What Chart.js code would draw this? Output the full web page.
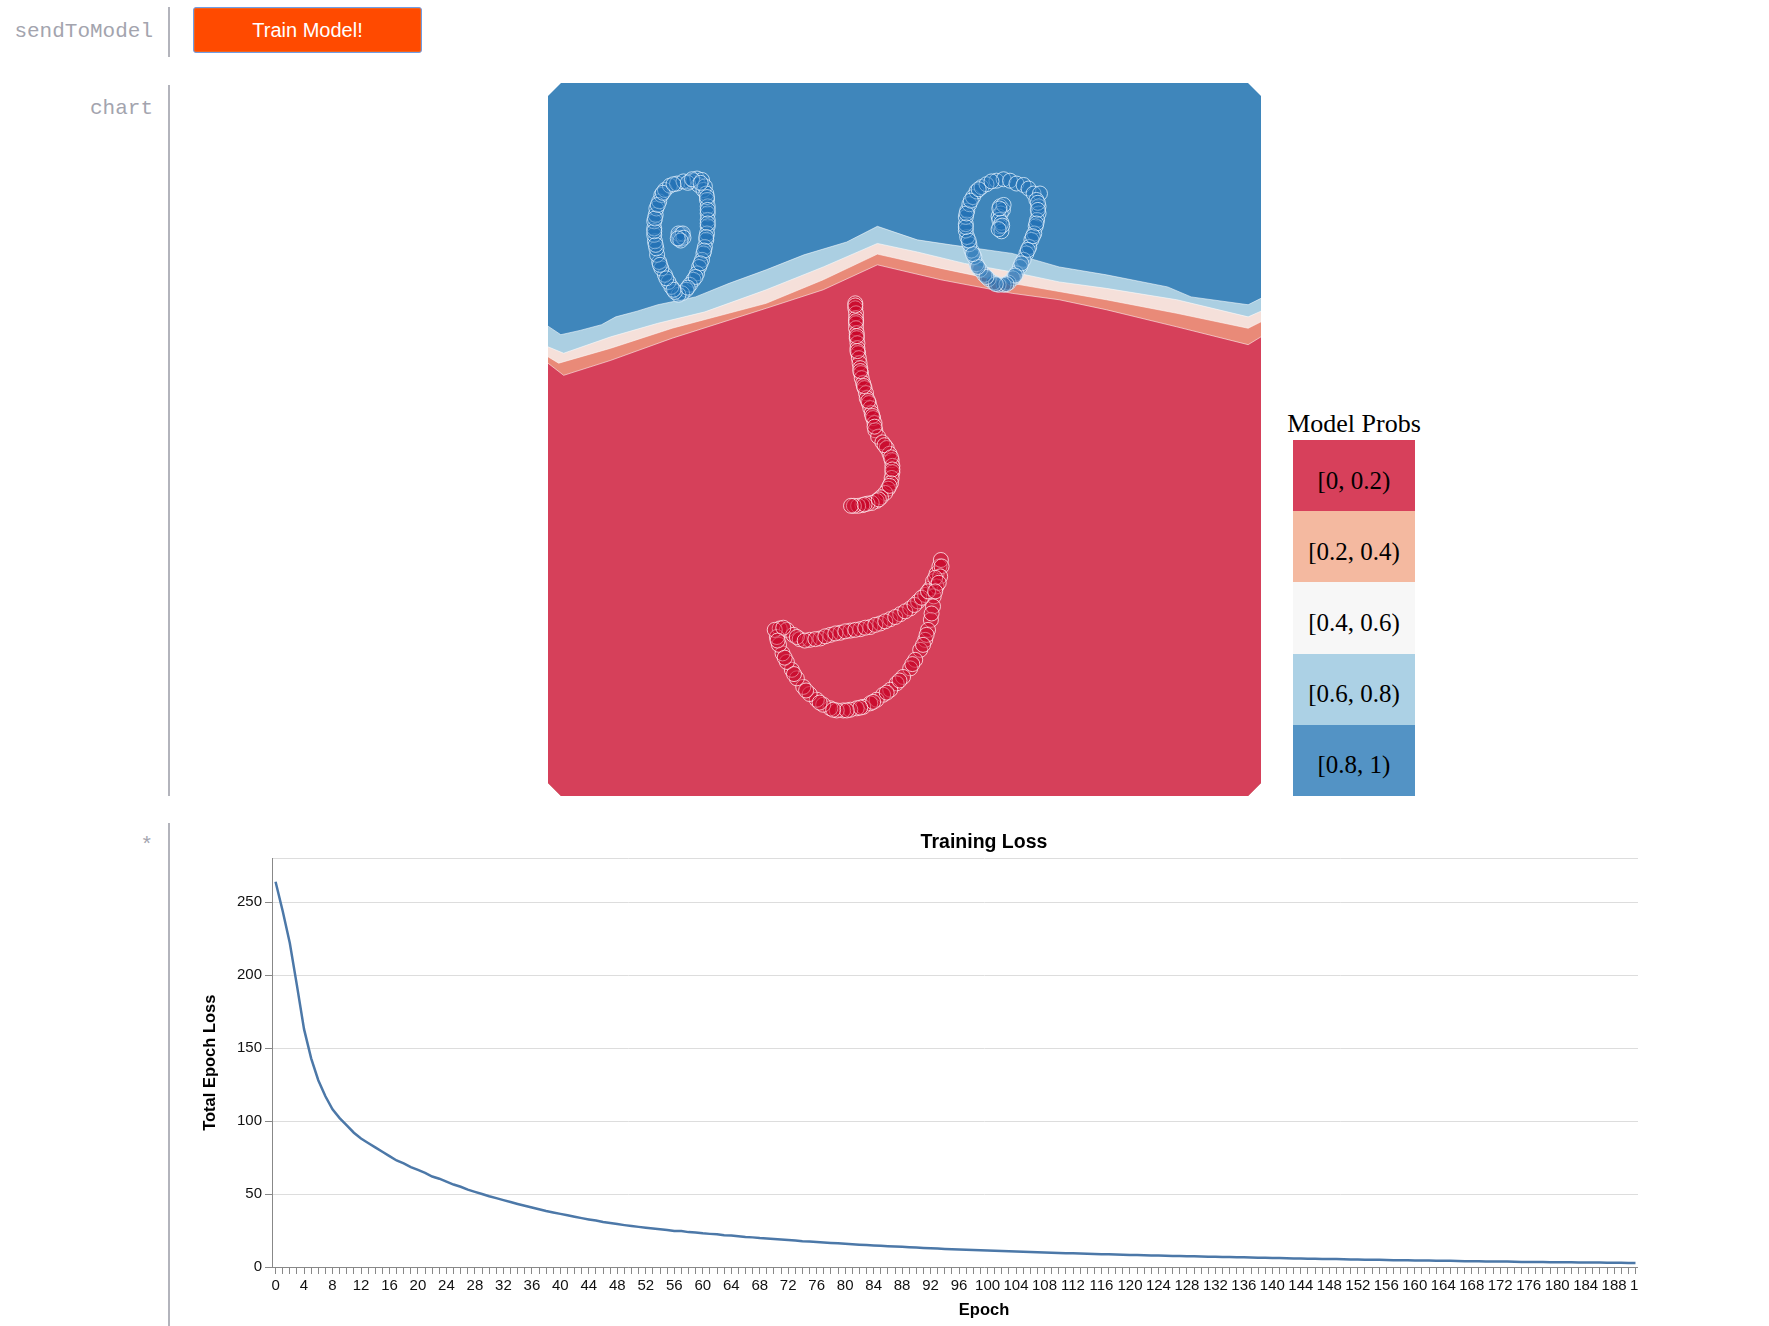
<!DOCTYPE html>
<html>
<head>
<meta charset="utf-8">
<script src="https://cdn.jsdelivr.net/npm/chart.js@4.4.1/dist/chart.umd.min.js"></script>
<style>
  html, body { margin: 0; padding: 0; background: #fff; overflow: hidden; }
  body { width: 1769px; height: 1326px; position: relative; }
  .cell-label {
    position: absolute; left: 0; width: 153px; text-align: right;
    font-family: 'Liberation Mono', 'DejaVu Sans Mono', monospace;
    font-size: 21px; line-height: 24px; color: #a3a4ae;
  }
  .sep { position: absolute; left: 168px; width: 2px; background: #b3b4bc; }
  #trainBtn {
    position: absolute; left: 193px; top: 7px; width: 229px; height: 46px;
    box-sizing: border-box;
    background: #ff4a00; color: #fff; border: 1.5px solid #6f9de6; border-radius: 3px;
    box-shadow: inset 0 0 0 1px #f0641f;
    font-family: 'Liberation Sans', Arial, sans-serif; font-size: 20px; padding: 0;
  }
  #mapWrap { position: absolute; left: 548px; top: 83px; width: 713px; height: 713px; }
  #legendTitle {
    position: absolute; left: 1274px; width: 160px; top: 408px; text-align: center;
    font-family: 'Liberation Serif', 'Times New Roman', serif; font-size: 26px; line-height: 32px; color: #000;
  }
  #legend { position: absolute; left: 1293px; top: 440px; width: 122px; }
  #legend div {
    box-sizing: border-box; height: 71.2px; padding-top: 10px;
    display: flex; align-items: center; justify-content: center;
    font-family: 'Liberation Serif', 'Times New Roman', serif; font-size: 25px; color: #000;
  }
  #lossWrap { position: absolute; left: 190px; top: 818px; width: 1448px; height: 508px; overflow: hidden; }
</style>
</head>
<body>
<div class="cell-label" style="top:20px">sendToModel</div>
<div class="sep" style="top:7px;height:50px"></div>
<button id="trainBtn">Train Model!</button>

<div class="cell-label" style="top:97px">chart</div>
<div class="sep" style="top:85px;height:711px"></div>
<div id="mapWrap"><canvas id="mapChart" width="713" height="713"></canvas></div>
<div id="legendTitle">Model Probs</div>
<div id="legend"></div>

<div class="cell-label" style="top:834px">*</div>
<div class="sep" style="top:823px;height:503px"></div>
<div id="lossWrap"><canvas id="lossChart" width="1506" height="508"></canvas></div>

<script>
const SANS = "'Liberation Sans', Arial, sans-serif";

// ---- decision map (x, y in 0..100, y up) ----
const BOUNDARY_08 = [[0,65.9],[1.8,64.7],[4.5,65.3],[7.5,66.1],[9.5,67.2],[12.5,68.0],[15.4,68.9],[20.7,70.0],[25.4,71.9],[30.6,73.8],[35.9,75.9],[41.9,77.7],[46.2,79.9],[51.8,78.0],[56.5,77.3],[65.1,76.1],[71.7,74.2],[78.3,73.1],[86.9,71.4],[90.2,70.0],[98.2,68.9],[100,69.8]];
const BOUNDARY_06 = [[0,63.0],[2.2,62.1],[8.8,64.4],[15.4,66.3],[22,67.9],[30.6,71.0],[38.6,74.2],[46.2,77.5],[51.8,76.3],[58.4,74.7],[65.1,73.5],[71.7,72.1],[78.3,71.2],[88.2,69.6],[98.2,67.2],[100,68.0]];
const BOUNDARY_04 = [[0,61.6],[1.5,60.7],[8.8,62.8],[17.4,65.6],[30.6,69.1],[38.6,72.4],[46.2,76.0],[55.1,74.0],[65.1,71.9],[78.3,69.6],[88.2,67.7],[98.2,65.6],[100,66.5]];
const BOUNDARY_02 = [[0,60.7],[2.2,59.0],[8.8,61.1],[17.4,64.2],[30.6,68.4],[38.6,71.0],[46.2,74.5],[55.1,72.4],[65.1,70.5],[71.7,69.6],[78.3,68.2],[88.2,65.8],[98.2,63.3],[100,64.4]];

const LEFT_EYE = [[19.9,86.2],[20.4,86.3],[20.9,86.6],[21.1,85.7],[21.6,86.4],[21.8,85.0],[22.0,85.5],[22.2,84.5],[22.3,83.6],[22.4,82.7],[22.4,81.7],[22.4,80.8],[22.4,79.9],[22.3,78.9],[22.2,78.0],[22.0,77.0],[21.8,76.1],[21.6,75.2],[21.2,74.2],[20.9,73.3],[20.4,72.4],[19.9,71.7],[19.4,71.0],[18.8,70.5],[18.3,70.3],[17.8,70.7],[17.3,71.4],[16.9,72.1],[16.4,73.1],[15.9,74.0],[15.6,74.9],[15.3,75.9],[15.2,76.8],[15.0,77.8],[14.9,78.7],[14.9,79.6],[14.9,80.6],[15.1,81.5],[15.2,82.4],[15.6,83.4],[15.9,84.3],[16.4,85.0],[17.1,85.6],[18.1,85.9],[19.0,86.2],[19.6,86.0],[20.2,86.5],[21.4,86.0],[22.3,84.0],[22.4,82.2],[22.4,80.3],[22.2,78.4],[21.9,76.5],[21.4,74.7],[20.7,72.8],[19.6,71.3],[17.6,71.0],[16.6,72.6],[15.7,74.5],[15.1,77.3],[14.9,79.2],[15.0,81.0],[15.4,82.9],[16.1,84.6],[17.6,85.8]];
const LEFT_PUPIL = [[18.4,78.7],[18.6,78.4],[18.5,78.1],[18.8,78.5],[18.4,78.2],[18.7,78.8],[18.3,78.9],[18.9,78.9],[19.0,78.3],[18.6,77.9],[18.2,78.2]];
const RIGHT_EYE = [[62.9,86.3],[63.9,86.5],[64.8,86.3],[65.7,85.9],[66.7,85.7],[67.4,85.2],[68.1,84.5],[69.0,84.5],[68.5,83.6],[68.8,82.7],[68.8,81.7],[68.6,80.8],[68.4,79.9],[68.2,78.9],[67.8,78.0],[67.5,77.0],[67.1,76.1],[66.7,75.2],[66.2,74.2],[65.7,73.3],[65.2,72.6],[64.6,72.0],[63.9,71.7],[63.2,71.7],[62.5,72.0],[61.8,72.5],[61.2,73.1],[60.6,73.8],[60.1,74.6],[59.8,75.6],[59.4,76.5],[59.1,77.4],[58.8,78.4],[58.6,79.3],[58.6,80.2],[58.6,81.2],[58.8,82.1],[59.1,83.0],[59.6,84.0],[60.1,84.8],[60.8,85.4],[61.5,85.8],[62.2,86.2],[68.7,83.2],[68.7,82.2],[68.5,80.3],[68.0,78.5],[67.3,76.6],[66.4,74.7],[65.5,73.0],[64.3,71.8],[62.8,71.8],[61.5,72.8],[60.3,74.2],[59.6,76.0],[59.0,77.9],[58.6,79.8],[58.7,81.7],[59.3,83.5],[60.4,85.1]];
const RIGHT_PUPIL = [[63.4,82.7],[63.8,82.2],[63.2,81.3],[63.5,81.7],[63.3,80.8],[63.4,79.9],[63.6,79.2],[63.6,80.4],[63.9,82.9],[63.3,82.4],[63.7,80.0],[63.2,79.5]];
const NOSE = [[43.1,69.1],[43.1,68.4],[43.2,67.7],[43.2,67.0],[43.2,66.3],[43.2,65.6],[43.3,64.9],[43.3,64.2],[43.4,63.5],[43.4,62.8],[43.5,62.1],[43.6,61.4],[43.7,60.7],[43.8,60.0],[43.9,59.3],[44.0,58.6],[44.2,57.9],[44.4,57.2],[44.6,56.5],[44.7,55.8],[45.0,55.1],[45.2,54.4],[45.4,53.7],[45.6,53.0],[45.8,52.3],[45.9,51.3],[46.3,50.4],[46.9,49.6],[47.5,48.8],[47.9,48.0],[48.2,47.1],[48.3,46.3],[48.3,45.4],[48.2,44.6],[48.1,43.9],[47.7,43.1],[47.3,42.5],[46.7,41.9],[46.1,41.4],[45.4,41.1],[44.8,41.0],[44.1,40.8],[43.5,40.7],[42.9,40.7],[42.5,40.7],[43.1,68.8],[43.2,66.6],[43.3,64.5],[43.4,62.4],[43.8,59.6],[44.3,57.5],[44.9,55.4],[45.5,53.3],[45.8,51.8],[47.2,49.2],[48.1,47.5],[48.3,45.8],[47.9,43.5],[46.4,41.6],[44.4,40.9]];
const MOUTH = [[32.5,23.5],[33.5,23.3],[34.4,22.6],[35.3,22.0],[36.7,21.9],[38.2,22.1],[39.6,22.6],[41.0,22.9],[42.4,23.2],[43.8,23.4],[45.2,23.7],[46.6,24.2],[48.0,24.8],[49.4,25.5],[50.8,26.3],[51.9,27.3],[52.9,28.2],[53.6,29.1],[54.0,30.1],[54.5,31.2],[54.9,32.2],[55.1,33.1],[55.2,32.2],[55.0,30.8],[54.5,29.4],[54.1,28.0],[54.0,26.6],[53.7,24.7],[53.3,23.3],[52.9,21.9],[52.2,20.5],[51.5,19.1],[50.8,17.9],[49.8,16.7],[48.9,15.8],[48.0,14.9],[47.0,14.2],[46.1,13.5],[45.2,13.0],[44.2,12.5],[43.3,12.3],[42.4,12.1],[41.4,12.0],[40.5,12.0],[39.6,12.3],[38.6,12.8],[37.7,13.5],[36.7,14.3],[35.8,15.3],[34.9,16.5],[34.2,17.7],[33.5,18.8],[32.9,20.0],[32.4,21.2],[32.1,22.3],[31.8,23.3],[33.0,23.6],[34.9,22.3],[36.0,21.8],[37.5,22.0],[38.9,22.4],[40.3,22.8],[41.7,23.1],[43.1,23.3],[44.5,23.6],[45.9,24.0],[47.3,24.5],[48.7,25.1],[50.1,25.9],[51.4,26.8],[52.4,27.8],[53.3,28.7],[54.3,30.6],[54.8,29.9],[54.3,28.7],[53.8,25.6],[53.1,22.6],[52.6,21.2],[51.1,18.5],[49.3,16.2],[47.5,14.5],[45.6,13.2],[43.8,12.4],[41.9,12.0],[40.0,12.1],[38.1,13.1],[36.2,14.8],[34.5,17.1],[33.2,19.4],[32.2,21.8]];

const LEGEND_BINS = ['[0, 0.2)', '[0.2, 0.4)', '[0.4, 0.6)', '[0.6, 0.8)', '[0.8, 1)'];
const LEGEND_COLORS = ['#d7405b', '#f4b9a0', '#f7f7f7', '#acd1e5', '#5393c5'];

// ---- training loss ----
const EPOCHS = Array.from({ length: 200 }, (_, i) => String(i));
const LOSS = [
  264, 244, 222, 193, 163, 143, 128, 117, 108, 102,
  97, 92, 88, 85, 82, 79, 76, 73, 71, 68.5,
  66.5, 64.5, 62, 60.5, 58.5, 56.5, 55, 53, 51.5, 50,
  48.5, 47.2, 45.8, 44.5, 43.2, 42, 40.8, 39.6, 38.4, 37.4,
  36.4, 35.4, 34.4, 33.5, 32.6, 31.8, 30.8, 30.1, 29.4, 28.7,
  28.1, 27.5, 26.9, 26.4, 25.9, 25.4, 24.7, 24.6, 23.9, 23.7,
  23.1, 22.7, 22.4, 21.7, 21.6, 21.1, 20.6, 20.3, 19.8, 19.6,
  19.2, 18.9, 18.5, 18.1, 17.7, 17.5, 17.1, 16.8, 16.5, 16.2,
  15.9, 15.6, 15.3, 15.1, 14.8, 14.5, 14.3, 14.0, 13.8, 13.5,
  13.3, 13.1, 12.9, 12.7, 12.4, 12.2, 12.0, 11.8, 11.7, 11.5,
  11.3, 11.1, 10.9, 10.8, 10.6, 10.4, 10.3, 10.1, 10.0, 9.8,
  9.6, 9.5, 9.4, 9.2, 9.1, 8.9, 8.8, 8.7, 8.5, 8.4,
  8.3, 8.2, 8.0, 7.9, 7.8, 7.7, 7.6, 7.5, 7.4, 7.3,
  7.2, 7.1, 7.0, 6.9, 6.8, 6.7, 6.6, 6.5, 6.4, 6.3,
  6.2, 6.1, 6.0, 5.9, 5.8, 5.7, 5.6, 5.5, 5.4, 5.4,
  5.3, 5.2, 5.1, 5.0, 5.0, 4.9, 4.8, 4.7, 4.7, 4.6,
  4.5, 4.4, 4.4, 4.3, 4.2, 4.2, 4.1, 4.0, 4.0, 3.9,
  3.8, 3.8, 3.7, 3.7, 3.6, 3.5, 3.5, 3.4, 3.4, 3.3,
  3.3, 3.2, 3.2, 3.1, 3.1, 3.0, 3.0, 2.9, 2.9, 2.9,
  2.8, 2.8
];

const MAP_BLUE = '#3f86bb';
const BAND_COLORS = { b08: '#abcfe2', b06: '#f5e0da', b04: '#e98a78', b02: '#d6405a' };

const toXY = pts => pts.map(p => ({ x: p[0], y: p[1] }));

// legend
const legendEl = document.getElementById('legend');
LEGEND_BINS.forEach((label, i) => {
  const d = document.createElement('div');
  d.textContent = label;
  d.style.background = LEGEND_COLORS[i];
  legendEl.appendChild(d);
});

// contour grid leaves the corners cut off
const cutCorners = {
  id: 'cutCorners',
  beforeDatasetsDraw(chart) {
    const { left, top, right, bottom } = chart.chartArea;
    const c = 13;
    const ctx = chart.ctx;
    ctx.save();
    ctx.beginPath();
    ctx.moveTo(left + c, top);
    ctx.lineTo(right - c, top);
    ctx.lineTo(right, top + c);
    ctx.lineTo(right, bottom - c);
    ctx.lineTo(right - c, bottom);
    ctx.lineTo(left + c, bottom);
    ctx.lineTo(left, bottom - c);
    ctx.lineTo(left, top + c);
    ctx.closePath();
    ctx.fillStyle = MAP_BLUE;
    ctx.fill();
    ctx.clip();
  },
  afterDatasetsDraw(chart) {
    chart.ctx.restore();
  }
};

function band(data, color, order) {
  return {
    data: toXY(data),
    showLine: true,
    pointRadius: 0,
    borderWidth: 1,
    borderColor: 'rgba(255,255,255,0.55)',
    backgroundColor: color,
    fill: 'start',
    tension: 0,
    order
  };
}

new Chart(document.getElementById('mapChart'), {
  type: 'scatter',
  data: {
    datasets: [
      band(BOUNDARY_08, BAND_COLORS.b08, 5),
      band(BOUNDARY_06, BAND_COLORS.b06, 4),
      band(BOUNDARY_04, BAND_COLORS.b04, 3),
      band(BOUNDARY_02, BAND_COLORS.b02, 2),
      {
        data: toXY([...NOSE, ...MOUTH]),
        backgroundColor: 'rgba(200,0,38,0.38)',
        borderColor: 'rgba(255,235,240,0.8)',
        borderWidth: 1,
        pointRadius: 7.5,
        order: 1
      },
      {
        data: toXY([...LEFT_EYE, ...LEFT_PUPIL, ...RIGHT_EYE, ...RIGHT_PUPIL]),
        backgroundColor: 'rgba(30,110,182,0.38)',
        borderColor: 'rgba(225,240,252,0.8)',
        borderWidth: 1,
        pointRadius: 7.5,
        order: 0
      }
    ]
  },
  options: {
    responsive: false,
    animation: false,
    layout: { padding: 0, autoPadding: false },
    plugins: { legend: { display: false }, tooltip: { enabled: false } },
    scales: {
      x: { type: 'linear', min: 0, max: 100, display: false },
      y: { type: 'linear', min: 0, max: 100, display: false }
    }
  },
  plugins: [cutCorners]
});

new Chart(document.getElementById('lossChart'), {
  type: 'line',
  data: {
    labels: EPOCHS,
    datasets: [{
      data: LOSS,
      borderColor: '#4c78a8',
      borderWidth: 2.5,
      pointRadius: 0,
      tension: 0,
      fill: false
    }]
  },
  options: {
    responsive: false,
    animation: false,
    layout: { padding: 0 },
    plugins: {
      legend: { display: false },
      tooltip: { enabled: false },
      title: {
        display: true,
        fullSize: false,
        text: 'Training Loss',
        color: '#000',
        font: { family: SANS, size: 19.5, weight: 'bold' },
        padding: { top: 13, bottom: 4 }
      }
    },
    scales: {
      x: {
        type: 'category',
        offset: true,
        grid: { offset: false, drawOnChartArea: false, drawTicks: true, tickLength: 7, tickColor: '#888', tickWidth: 1 },
        border: { display: true, color: '#888', width: 1 },
        ticks: {
          autoSkip: false, maxRotation: 0, minRotation: 0, padding: 3,
          color: '#111', font: { family: SANS, size: 15 },
          callback: (v, i) => (i % 4 === 0 ? EPOCHS[i] : '')
        },
        title: {
          display: true, text: 'Epoch', color: '#000',
          font: { family: SANS, size: 16.5, weight: 'bold' },
          padding: { top: 4, bottom: 5.5 }
        },
        afterFit: s => { s.height = 59; }
      },
      y: {
        min: 0,
        max: 280,
        grid: {
          color: '#dddddd',
          tickLength: 7,
          tickColor: c => (c.tick && c.tick.value === 280 ? 'rgba(0,0,0,0)' : '#888')
        },
        border: { display: true, color: '#888', width: 1 },
        ticks: {
          stepSize: 50, padding: 3, color: '#111',
          font: { family: SANS, size: 15 },
          callback: v => (v === 280 ? '' : v)
        },
        title: {
          display: true, text: 'Total Epoch Loss', color: '#000',
          font: { family: SANS, size: 16.5, weight: 'bold' },
          padding: { top: 11, bottom: 0 }
        },
        afterFit: s => { s.width = 82; }
      }
    }
  }
});
</script>
</body>
</html>
